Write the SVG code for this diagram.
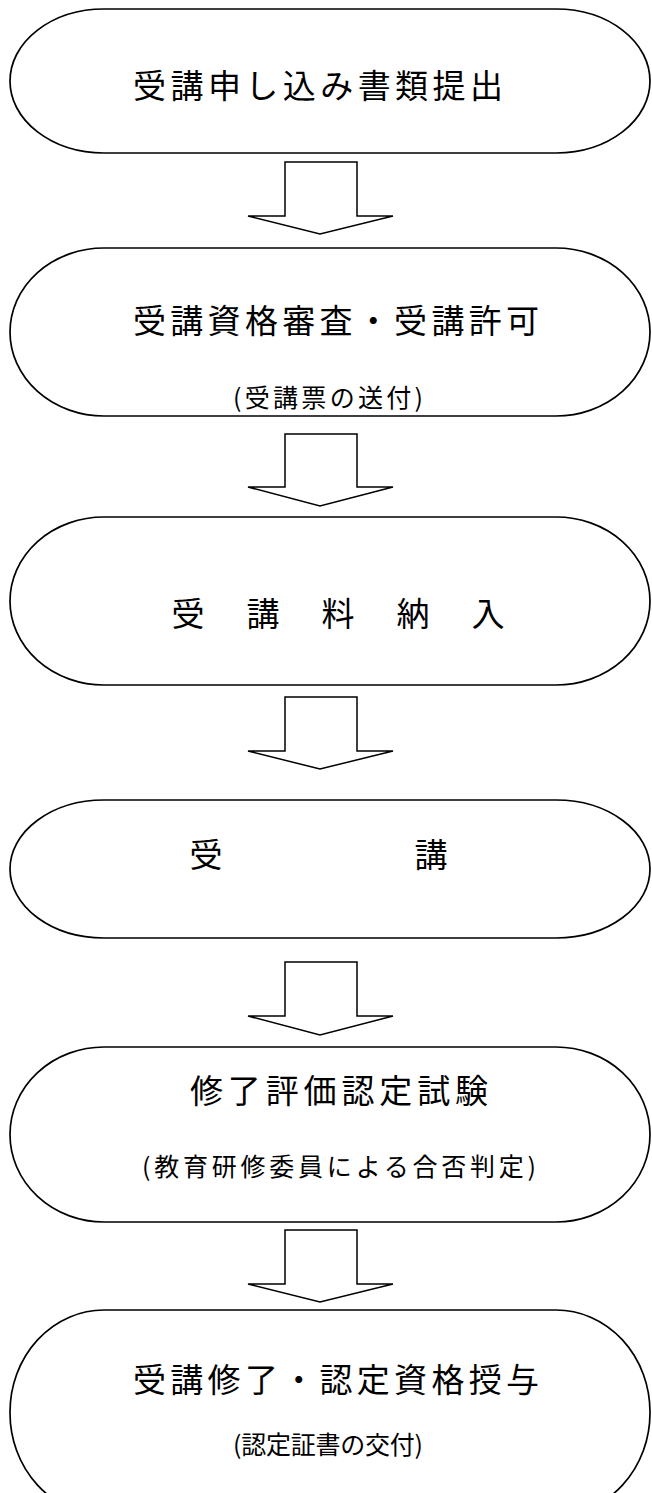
<svg xmlns="http://www.w3.org/2000/svg" width="652" height="1493" viewBox="0 0 652 1493">
<style>
.node{fill:#fff;stroke:#000;stroke-width:1.7}
.arrow{fill:#fff;stroke:#000;stroke-width:1.5;stroke-linejoin:miter}
.t{font-family:"Noto Sans CJK JP","Noto Sans CJK SC",sans-serif;font-size:33px;fill:#000;dominant-baseline:central}
.s{font-family:"Noto Sans CJK JP","Noto Sans CJK SC",sans-serif;font-size:25px;fill:#000;dominant-baseline:central}
.c{text-anchor:middle}
</style>
<rect width="652" height="1493" fill="#fff"/>
<g id="connectors">
<path class="arrow" d="M285,162 H357 V216 H393 L320,234 L248,216 H285 Z"/>
<path class="arrow" d="M285,434 H357 V487 H393 L320,506 L248,487 H285 Z"/>
<path class="arrow" d="M285,697 H357 V751 H393 L320,769 L248,751 H285 Z"/>
<path class="arrow" d="M285,962 H357 V1016 H393 L320,1035 L248,1016 H285 Z"/>
<path class="arrow" d="M285,1230 H357 V1284 H393 L320,1302 L248,1284 H285 Z"/>
</g>
<g id="n1">
<rect class="node" x="10" y="9" width="640" height="144" rx="94" ry="72"/>
<text class="t" x="133" y="84" textLength="370" lengthAdjust="spacing">受講申し込み書類提出</text>
</g>
<g id="n2">
<rect class="node" x="10" y="248" width="640" height="168" rx="94" ry="84"/>
<text class="t" x="133" y="319" textLength="406" lengthAdjust="spacing">受講資格審査・受講許可</text>
<text class="s" x="233" y="396" textLength="190" lengthAdjust="spacing">(受講票の送付)</text>
</g>
<g id="n3">
<rect class="node" x="10" y="517" width="640" height="168" rx="94" ry="84"/>
<text class="t c" x="188" y="612">受</text>
<text class="t c" x="263" y="612">講</text>
<text class="t c" x="338" y="612">料</text>
<text class="t c" x="413" y="612">納</text>
<text class="t c" x="488" y="612">入</text>
</g>
<g id="n4">
<rect class="node" x="10" y="800" width="640" height="138" rx="94" ry="69"/>
<text class="t c" x="206" y="853">受</text>
<text class="t c" x="431" y="853">講</text>
</g>
<g id="n5">
<rect class="node" x="10" y="1047" width="640" height="175" rx="94" ry="87.5"/>
<text class="t" x="190" y="1089" textLength="298" lengthAdjust="spacing">修了評価認定試験</text>
<text class="s" x="142" y="1165" textLength="394" lengthAdjust="spacing">(教育研修委員による合否判定)</text>
</g>
<g id="n6">
<rect class="node" x="10" y="1310" width="640" height="205" rx="94" ry="102"/>
<text class="t" x="133" y="1378" textLength="406" lengthAdjust="spacing">受講修了・認定資格授与</text>
<text class="s" x="233" y="1443" textLength="190" lengthAdjust="spacing">(認定証書の交付)</text>
</g>
</svg>
